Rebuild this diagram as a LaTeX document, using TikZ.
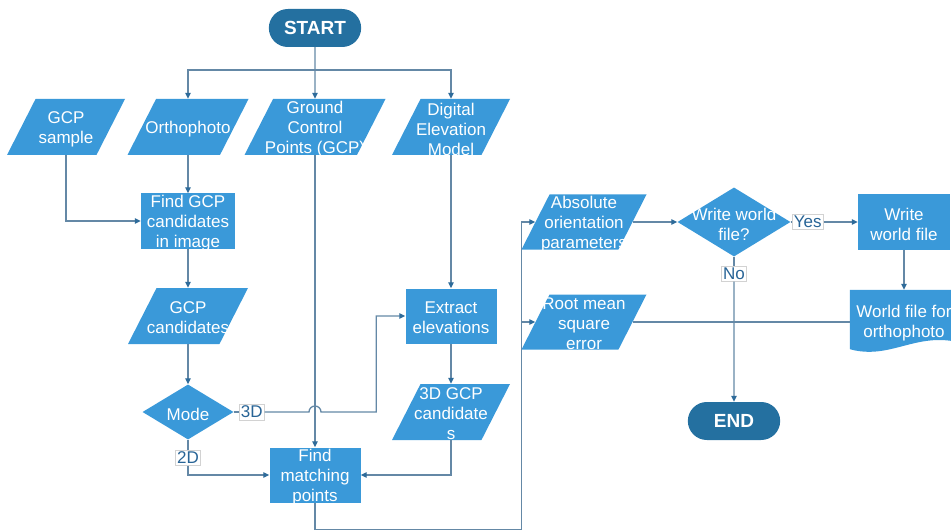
\documentclass[tikz,border=0pt]{standalone}
\usepackage{fontspec}
\setmainfont{Liberation Sans}
\usetikzlibrary{shapes.geometric, shapes.misc, arrows.meta, positioning, backgrounds}

\definecolor{boxblue}{RGB}{58,153,217}
\definecolor{termblue}{RGB}{36,112,160}
\definecolor{linec}{RGB}{100,136,166}
\definecolor{tipc}{RGB}{46,107,154}
\definecolor{labc}{RGB}{40,100,150}

\tikzset{
  txt/.style={text=white, align=center, font=\fontsize{17}{20}\selectfont, inner sep=0pt, yshift=-2pt},
  term/.style={rounded rectangle, fill=termblue, text=white, font=\fontsize{19}{22}\selectfont\bfseries, minimum width=99pt, minimum height=38pt},
  proc/.style={rectangle, fill=boxblue, minimum width=92pt, minimum height=55pt, inner sep=0pt, label={[txt]center:#1}},
  io/.style={trapezium, trapezium left angle=63, trapezium right angle=117, trapezium stretches body, fill=boxblue, minimum width=118pt, inner xsep=0pt, inner ysep=28pt, label={[txt]center:#1}},
  dec/.style={diamond, fill=boxblue, minimum width=91pt, minimum height=55pt, inner sep=0pt, label={[txt]center:#1}},
  lab/.style={fill=white, draw=gray!35, line width=0.6pt, text=labc, font=\fontsize{17}{20}\selectfont, inner sep=1.8pt},
  line/.style={draw=linec, line width=1.3pt},
  arrow/.style={line, -{Triangle[length=6pt, width=5.5pt, color=tipc]}}
}

\begin{document}
\begin{tikzpicture}[node distance=2cm, on grid]
  \useasboundingbox (0,0) rectangle (951pt,-532pt);

  % inputs
  \node[term] (start) at (315pt,-28pt) {START};
  \node[io={Ground\\Control\\Points (GCP)}, minimum width=141pt] (gcp) [below=99pt of start] {};
  \node[io=Orthophoto, minimum width=121pt] (ortho) [left=127pt of gcp] {};
  \node[io={GCP\\sample}] (sample) [left=122pt of ortho] {};
  \node[io={Digital\\Elevation\\Model}] (dem) [right=136pt of gcp] {};

  % candidates
  \node[proc={Find GCP\\candidates\\in image}, minimum width=94pt] (find) [below=94pt of ortho] {};
  \node[io={GCP\\candidates}, minimum width=120pt] (cand) [below=95pt of find] {};
  \node[dec=Mode] (mode) [below=96pt of cand] {};
  \node[proc={Extract\\elevations}, minimum width=91pt] (extract) [below=189pt of dem] {};
  \node[io={3D GCP\\candidate\\s}] (cand3d) [below=96pt of extract] {};
  \node[proc={Find\\matching\\points}, minimum width=91pt] (match) [below=348pt of gcp] {};

  % outputs
  \node[io={Absolute\\orientation\\parameters}, minimum width=125pt, inner ysep=27.5pt] (abs) [below right=95pt and 133pt of dem] {};
  \node[io={Root mean\\square\\error}, minimum width=125pt, inner ysep=27.5pt] (rmse) [below=100pt of abs] {};
  \node[dec={Write world\\file?}, minimum width=113pt, minimum height=69pt] (write) [right=150pt of abs] {};
  \node[proc={Write\\world file}] (wwf) [right=170pt of write] {};
  \node[txt, minimum width=108pt, minimum height=66pt] (wfo) [below=99pt of wwf] {World file for\\orthophoto};
  \node[term] (end) [below=199pt of write] {END};

  \begin{scope}[on background layer]
    \fill[boxblue] (wfo.north west) -- (wfo.north east) -- ([yshift=14pt]wfo.south east)
      .. controls ([xshift=-43pt, yshift=24pt]wfo.south east) and ([xshift=40pt, yshift=-4pt]wfo.south west)
      .. ([yshift=7pt]wfo.south west) -- cycle;
  \end{scope}

  % left part
  \coordinate[below=42pt of start] (split);
  \draw[arrow] (start) -- (gcp);
  \draw[arrow] (split) -| (ortho);
  \draw[arrow] (split) -| (dem);
  \draw[arrow] (sample) |- (find);
  \draw[arrow] (ortho) -- (find);
  \draw[arrow] (find) -- (cand);
  \draw[arrow] (cand) -- (mode);
  \draw[arrow] (dem) -- (extract);
  \draw[arrow] (extract) -- (cand3d);
  \draw[arrow] (gcp) -- (match);
  \draw[arrow] (cand3d) |- (match);

  \node[lab] (l3d) at ([xshift=18pt]mode.east) {3D};
  \node[lab] (l2d) at ([yshift=-18pt]mode.south) {2D};
  \draw[line] (mode) -- (l3d);
  \draw[line] (mode) -- (l2d);
  \coordinate (cross) at (gcp |- mode);
  \coordinate[left=29pt of extract.west] (bend);
  \draw[arrow] (l3d) -- ([xshift=-6pt]cross) arc[start angle=180, end angle=0, radius=6pt]
    -- (bend |- cross) |- (extract);
  \draw[arrow] (l2d) |- (match);

  % right part
  \coordinate[below=27pt of match.south] (low);
  \coordinate[left=14pt of abs.west] (trunk);
  \draw[arrow] (match) -- (low) -| (trunk) -- (abs);
  \draw[arrow] (trunk |- rmse) -- (rmse);
  \draw[arrow] (abs) -- (write);
  \node[lab] (lyes) at ([xshift=17pt]write.east) {Yes};
  \draw[line] (write) -- (lyes);
  \draw[arrow] (lyes) -- (wwf);
  \node[lab] (lno) at ([yshift=-17pt]write.south) {No};
  \draw[line] (write) -- (lno);
  \draw[arrow] (lno) -- (end);
  \draw[arrow] (wwf) -- (wfo);
  \draw[line] (rmse) -- (rmse.east -| wfo.west);
\end{tikzpicture}
\end{document}
